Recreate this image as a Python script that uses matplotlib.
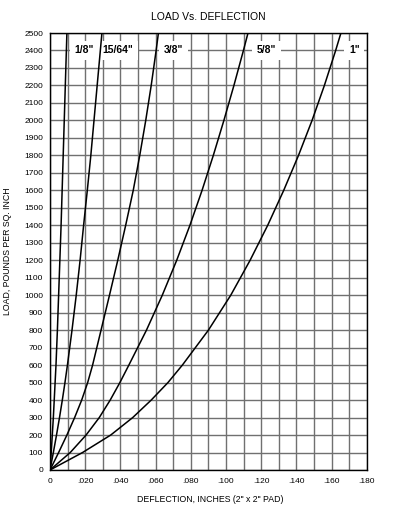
import numpy as np
import matplotlib
matplotlib.use('Agg')
from matplotlib import pyplot as plt

plt.rcParams.update({'font.family': ['Liberation Sans', 'DejaVu Sans']})

# load (psi) and deflection (in)
loads = [0, 100, 200, 300, 400, 500, 600, 800, 1000, 1200, 1400, 1600, 1800,
         2000, 2200, 2400, 2500]

defl_18 = [0, 0.0007, 0.0013, 0.0019, 0.0024, 0.0029, 0.0034, 0.0042, 0.0049,
           0.0056, 0.0063, 0.0069, 0.0075, 0.0081, 0.0087, 0.0093, 0.0096]
defl_1564 = [0, 0.0019, 0.0037, 0.0054, 0.0070, 0.0085, 0.0099, 0.0125, 0.0149,
             0.0171, 0.0191, 0.0212, 0.0232, 0.0250, 0.0268, 0.0286, 0.0295]
defl_38 = [0, 0.0049, 0.0096, 0.0140, 0.0180, 0.0214, 0.0242, 0.0290, 0.0338,
           0.0385, 0.0430, 0.0473, 0.0510, 0.0544, 0.0575, 0.0603, 0.0616]
defl_58 = [0, 0.0115, 0.0205, 0.0280, 0.0342, 0.0397, 0.0448, 0.0548, 0.0638,
           0.0720, 0.0795, 0.0864, 0.0928, 0.0988, 0.1045, 0.1099, 0.1125]
defl_1 = [0, 0.0185, 0.0345, 0.0470, 0.0575, 0.0670, 0.0752, 0.0900, 0.1027,
          0.1137, 0.1237, 0.1328, 0.1412, 0.1489, 0.1559, 0.1623, 0.1653]

curve_names = ['1/8"', '15/64"', '3/8"', '5/8"', '1"']
label_x = [0.0194, 0.0387, 0.0700, 0.1230, 0.1730]
label_load = 2400

x_ticks = [0, 0.02, 0.04, 0.06, 0.08, 0.10, 0.12, 0.14, 0.16, 0.18]
x_ticklabels = ['0', '.020', '.040', '.060', '.080', '.100', '.120', '.140', '.160', '.180']
y_ticks = list(range(0, 2501, 100))

fig = plt.figure(figsize=(3.94, 5.15), dpi=100)
ax = fig.add_axes([50 / 394, 45 / 515, 316.8 / 394, 437 / 515])

for d in [defl_18, defl_1564, defl_38, defl_58, defl_1]:
    ax.plot(d, loads, color='black', lw=1.1, zorder=4)

for name, xl in zip(curve_names, label_x):
    ax.text(xl, label_load, name, ha='center', va='center', fontsize=7.5,
            fontweight='bold', zorder=3,
            bbox=dict(boxstyle='square,pad=0.45', fc='white', ec='none'))

ax.set_xlim(0, 0.18)
ax.set_ylim(0, 2500)
ax.set_xticks(x_ticks)
ax.set_xticklabels(x_ticklabels)
ax.set_xticks(np.arange(0, 0.1801, 0.01), minor=True)
ax.set_yticks(y_ticks)
ax.tick_params(axis='both', which='both', length=0, labelsize=6)
ax.tick_params(axis='x', pad=6)
ax.tick_params(axis='y', pad=5)
ax.grid(True, which='both', color='#707070', lw=1.0)
ax.set_axisbelow(True)
for s in ax.spines.values():
    s.set_linewidth(1.0)

fig.text(208 / 394, 1 - 17 / 515, 'LOAD Vs. DEFLECTION', ha='center', va='center',
         fontsize=7.5)
fig.text(210 / 394, 1 - 500 / 515, 'DEFLECTION, INCHES (2" x 2" PAD)', ha='center',
         va='center', fontsize=6.3)
fig.text(8 / 394, 1 - 251 / 515, 'LOAD, POUNDS PER SQ. INCH', ha='center',
         va='center', rotation=90, fontsize=6.3)

fig.savefig('out.png', dpi=100)
